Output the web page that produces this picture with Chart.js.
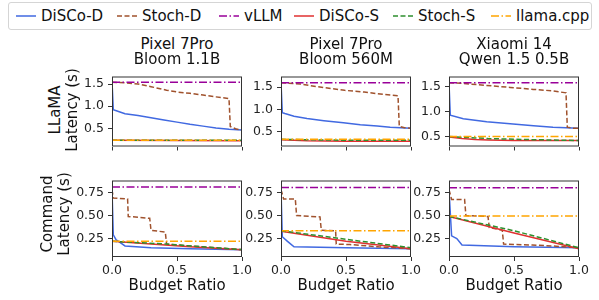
<!DOCTYPE html>
<html>
<head>
<meta charset="utf-8">
<script src="https://cdn.jsdelivr.net/npm/chart.js@4.4.1/dist/chart.umd.min.js"></script>
<style>
  body { margin: 0; width: 599px; height: 300px; position: relative; background: #fff; overflow: hidden;
         font-family: "DejaVu Sans", sans-serif; color: #111; }
  canvas { position: absolute; }
  .t { position: absolute; font-size: 15px; white-space: nowrap; transform: translate(-50%, -50%); line-height: 17px; }
  .yl { position: absolute; font-size: 15px; white-space: nowrap; transform: translate(-50%, -50%) rotate(-90deg); }
  #legend { position: absolute; left: 8px; top: 2px; width: 584px; height: 28px; box-sizing: border-box;
            border: 1px solid #d5d5d5; border-radius: 3px; }
  .lg { position: absolute; top: 0; height: 26px; display: flex; align-items: center; font-size: 15px; white-space: nowrap; }
  .lg svg { margin-right: 5px; }
</style>
</head>
<body>
<div id="legend"></div>
<script>
// series + panels
const seriesNames = ['DiSCo-D', 'Stoch-D', 'vLLM', 'DiSCo-S', 'Stoch-S', 'llama.cpp'];
const seriesColors = ['#4169e1', '#a0522d', '#990099', '#e03030', '#2e8f2e', '#ffa500'];
const seriesDash = [[], [5, 2.5], [8, 2.5, 1.5, 2.5], [], [5, 2.5], [8, 2.5, 1.5, 2.5]];
const panelTitles = [['Pixel 7Pro', 'Bloom 1.1B'], ['Pixel 7Pro', 'Bloom 560M'], ['Xiaomi 14', 'Qwen 1.5 0.5B']];
const rowLabels = [['LLaMA', 'Latency (s)'], ['Command', 'Latency (s)']];
const xLabel = 'Budget Ratio';
const xTicks = [0, 0.5, 1.0];
const llamaYTicks = [0.5, 1.0, 1.5];
const commandYTicks = [0.25, 0.5, 0.75];
const llamaYRange = [[0.09, 1.67], [0.17, 1.74], [0.3, 1.71]];
const commandYRange = [[0.05, 0.88], [0.05, 0.88], [0.05, 0.88]];

// LLaMA latency (s), one list per panel, [budget ratio, latency]
const llamaDiscoD = [
  [[0, 1.56], [0.01, 0.92], [0.05, 0.88], [0.1, 0.83], [0.2, 0.79], [0.3, 0.74], [0.4, 0.69], [0.5, 0.64], [0.6, 0.59], [0.7, 0.55], [0.8, 0.51], [0.9, 0.48], [1.0, 0.46]],
  [[0, 1.6], [0.01, 0.93], [0.03, 0.91], [0.1, 0.85], [0.2, 0.8], [0.33, 0.75], [0.48, 0.7], [0.61, 0.66], [0.74, 0.63], [0.84, 0.6], [0.92, 0.59], [1.0, 0.58]],
  [[0, 1.58], [0.01, 0.93], [0.11, 0.86], [0.29, 0.8], [0.47, 0.76], [0.65, 0.72], [0.8, 0.69], [0.9, 0.68], [1.0, 0.67]],
];
const llamaStochD = [
  [[0, 1.54], [0.1, 1.53], [0.2, 1.5], [0.3, 1.44], [0.42, 1.36], [0.5, 1.32], [0.6, 1.29], [0.7, 1.25], [0.8, 1.21], [0.9, 1.17], [0.91, 0.54], [0.95, 0.49], [1.0, 0.46]],
  [[0, 1.6], [0.15, 1.57], [0.28, 1.51], [0.49, 1.43], [0.64, 1.39], [0.79, 1.34], [0.9, 1.31], [0.91, 0.62], [0.95, 0.59], [1.0, 0.58]],
  [[0, 1.585], [0.11, 1.57], [0.29, 1.53], [0.47, 1.49], [0.65, 1.45], [0.8, 1.42], [0.9, 1.38], [0.91, 0.69], [0.95, 0.67], [1.0, 0.67]],
];
const llamaVllm = [1.54, 1.6, 1.585];
const llamaDiscoS = [
  [[0, 0.23], [1.0, 0.22]],
  [[0, 0.32], [0.2, 0.3], [0.5, 0.29], [1.0, 0.29]],
  [[0, 0.49], [0.1, 0.46], [0.2, 0.44], [0.3, 0.43], [0.5, 0.42], [1.0, 0.42]],
];
const llamaStochS = [
  [[0, 0.23], [1.0, 0.23]],
  [[0, 0.33], [0.5, 0.31], [1.0, 0.31]],
  [[0, 0.5], [0.3, 0.46], [0.6, 0.44], [1.0, 0.42]],
];
const llamaCpp = [0.23, 0.33, 0.5];

// Command latency (s)
const commandDiscoD = [
  [[0, 0.78], [0.01, 0.29], [0.03, 0.24], [0.1, 0.17], [0.3, 0.15], [0.6, 0.14], [1.0, 0.13]],
  [[0, 0.78], [0.01, 0.27], [0.05, 0.22], [0.1, 0.16], [0.5, 0.15], [1.0, 0.14]],
  [[0, 0.78], [0.02, 0.28], [0.06, 0.25], [0.1, 0.18], [0.5, 0.16], [1.0, 0.15]],
];
const commandStochD = [
  [[0, 0.78], [0.01, 0.69], [0.12, 0.68], [0.125, 0.49], [0.29, 0.47], [0.3, 0.34], [0.41, 0.32], [0.42, 0.19], [0.6, 0.17], [0.8, 0.15], [1.0, 0.13]],
  [[0, 0.78], [0.02, 0.68], [0.11, 0.68], [0.12, 0.5], [0.3, 0.485], [0.31, 0.34], [0.42, 0.335], [0.425, 0.19], [0.53, 0.185], [0.75, 0.16], [1.0, 0.14]],
  [[0, 0.78], [0.02, 0.675], [0.12, 0.675], [0.13, 0.5], [0.3, 0.49], [0.31, 0.37], [0.41, 0.34], [0.42, 0.19], [0.64, 0.18], [0.79, 0.17], [1.0, 0.15]],
];
const commandVllm = [0.81, 0.805, 0.8];
const commandDiscoS = [
  [[0, 0.22], [0.3, 0.19], [0.6, 0.16], [1.0, 0.13]],
  [[0, 0.33], [0.5, 0.22], [1.0, 0.14]],
  [[0, 0.49], [0.5, 0.31], [1.0, 0.14]],
];
const commandStochS = [
  [[0, 0.22], [0.42, 0.19], [0.7, 0.16], [1.0, 0.13]],
  [[0, 0.335], [1.0, 0.15]],
  [[0, 0.49], [0.5, 0.335], [1.0, 0.15]],
];
const commandCpp = [0.22, 0.335, 0.495];

// --- layout (pixels) ---
const colLeft = [112, 281, 449];
const plotW = 130;
const rowTop = [68, 172];
const rowH = [84, 85];
const FONT = 'DejaVu Sans';

const rows = [
  { series: [llamaDiscoD, llamaStochD, llamaVllm, llamaDiscoS, llamaStochS, llamaCpp], ticks: llamaYTicks, range: llamaYRange, dec: 1 },
  { series: [commandDiscoD, commandStochD, commandVllm, commandDiscoS, commandStochS, commandCpp], ticks: commandYTicks, range: commandYRange, dec: 2 },
];

const toPts = (v) => (Array.isArray(v) ? v : [[0, v], [1, v]]).map(([x, y]) => ({ x, y }));

const framePlugin = {
  id: 'frame',
  afterDatasetsDraw(chart) {
    const { ctx, chartArea: a } = chart;
    ctx.save();
    ctx.strokeStyle = '#333';
    ctx.lineWidth = 1;
    ctx.strokeRect(a.left + 0.5, a.top + 0.5, a.right - a.left - 1, a.bottom - a.top - 1);
    ctx.restore();
  },
};

function addText(cls, txt, x, y) {
  const d = document.createElement('div');
  d.className = cls;
  d.textContent = txt;
  d.style.left = x + 'px';
  d.style.top = y + 'px';
  document.body.appendChild(d);
}

function makePanel(r, c) {
  const row = rows[r];
  const L = colLeft[c], T = rowTop[r], H = rowH[r];
  const yw = 45, padT = 3, padR = 15, xh = r === 0 ? 6 : 22;
  const cv = document.createElement('canvas');
  cv.width = plotW + yw + padR;
  cv.height = H + padT + xh;
  cv.style.left = (L - yw) + 'px';
  cv.style.top = (T - padT) + 'px';
  document.body.appendChild(cv);

  const datasets = row.series.map((s, i) => ({
    label: seriesNames[i],
    data: toPts(s[c]),
    borderColor: seriesColors[i],
    borderDash: seriesDash[i],
    borderWidth: 1.5,
    pointRadius: 0,
    tension: 0,
    fill: false,
    order: seriesNames.length - i,
  }));

  const grid = { drawOnChartArea: false, drawTicks: true, tickLength: 4, color: '#333' };
  new Chart(cv, {
    type: 'line',
    data: { datasets },
    options: {
      responsive: false, animation: false, events: [],
      layout: { padding: { top: padT, right: padR, left: 0, bottom: 0 } },
      plugins: { legend: { display: false }, tooltip: { enabled: false } },
      scales: {
        x: {
          type: 'linear', min: 0, max: 1,
          afterBuildTicks: (a) => { a.ticks = xTicks.map((v) => ({ value: v })); },
          afterFit: (s) => { s.height = xh; },
          grid, border: { display: false },
          ticks: { display: r === 1, autoSkip: false, maxRotation: 0, padding: 2, color: '#222',
                   font: { family: FONT, size: 12.5 }, callback: (v) => Number(v).toFixed(1) },
        },
        y: {
          type: 'linear', min: row.range[c][0], max: row.range[c][1],
          afterBuildTicks: (a) => { a.ticks = row.ticks.map((v) => ({ value: v })); },
          afterFit: (s) => { s.width = yw; },
          grid, border: { display: false },
          ticks: { autoSkip: false, padding: 4, color: '#222',
                   font: { family: FONT, size: 12.5 }, callback: (v) => Number(v).toFixed(row.dec) },
        },
      },
    },
    plugins: [framePlugin],
  });

  const cx = L + plotW / 2;
  if (r === 0) {
    addText('t', panelTitles[c][0], cx, 44);
    addText('t', panelTitles[c][1], cx, 59);
  } else {
    addText('t', xLabel, cx, 285);
  }
}

for (let r = 0; r < 2; r++) for (let c = 0; c < 3; c++) makePanel(r, c);

// row labels
addText('yl', rowLabels[0][0], 55, 110);
addText('yl', rowLabels[0][1], 72, 110);
addText('yl', rowLabels[1][0], 47, 214);
addText('yl', rowLabels[1][1], 64, 214);

// legend
const legendX = [7, 108, 210, 285, 384, 482];
const lg = document.getElementById('legend');
seriesNames.forEach((name, i) => {
  const it = document.createElement('div');
  it.className = 'lg';
  it.style.left = legendX[i] + 'px';
  const dash = seriesDash[i].length ? `stroke-dasharray="${seriesDash[i].join(' ')}"` : '';
  it.innerHTML = `<svg width="20" height="4"><line x1="0" y1="2" x2="20" y2="2" stroke="${seriesColors[i]}" stroke-width="1.5" ${dash}/></svg><span>${name}</span>`;
  lg.appendChild(it);
});
</script>
</body>
</html>
